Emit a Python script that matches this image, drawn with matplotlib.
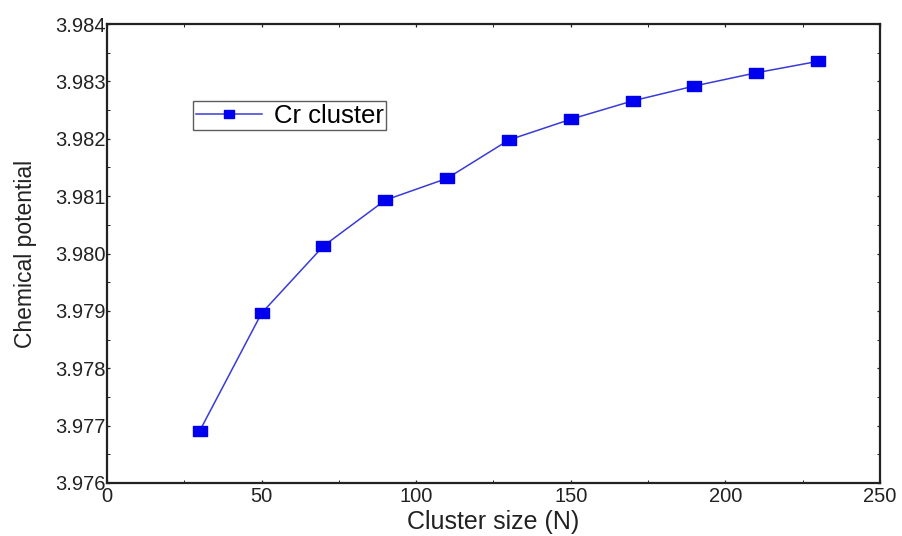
import matplotlib.pyplot as plt
from matplotlib.path import Path
from matplotlib.ticker import MultipleLocator, FormatStrFormatter

plt.rcParams["font.family"] = ["Liberation Sans", "DejaVu Sans"]

# Chemical potential of Cr clusters versus cluster size
cluster_size = [30, 50, 70, 90, 110, 130, 150, 170, 190, 210, 230]
chemical_potential = [3.97691, 3.97896, 3.98013, 3.98093, 3.98131, 3.98198,
                      3.98234, 3.98266, 3.98292, 3.98315, 3.98335]

x_ticks = [0, 50, 100, 150, 200, 250]
y_ticks = [3.976, 3.977, 3.978, 3.979, 3.980, 3.981, 3.982, 3.983, 3.984]

# slightly wide square marker
WIDE_SQUARE = Path([(-1.3, -1), (1.3, -1), (1.3, 1), (-1.3, 1), (-1.3, -1)],
                   [Path.MOVETO, Path.LINETO, Path.LINETO, Path.LINETO,
                    Path.CLOSEPOLY])


def main():
    fig = plt.figure(figsize=(9.03, 5.36), dpi=100)
    ax = fig.add_axes([0.1185, 0.0989, 0.856, 0.8563])

    ax.plot(cluster_size, chemical_potential, color="#3a3ad8", linewidth=1.1,
            marker=WIDE_SQUARE, markersize=9.5, markerfacecolor="#0000ee",
            markeredgecolor="#0000ee", label="Cr cluster")

    ax.set_xlim(0, 250)
    ax.set_ylim(3.976, 3.984)
    ax.set_xticks(x_ticks)
    ax.set_yticks(y_ticks)
    ax.yaxis.set_major_formatter(FormatStrFormatter("%.3f"))
    ax.xaxis.set_minor_locator(MultipleLocator(25))
    ax.yaxis.set_minor_locator(MultipleLocator(0.0005))
    ax.tick_params(which="both", direction="in", top=True, right=True,
                   labelsize=14.5, colors="#222222")
    ax.tick_params(axis="y", pad=1)
    ax.tick_params(axis="x", pad=3)
    ax.tick_params(which="major", length=2.5, width=0.9)
    ax.tick_params(which="minor", length=2, width=0.7)
    for spine in ax.spines.values():
        spine.set_linewidth(1.6)
        spine.set_color("#222222")

    ax.set_xlabel("Cluster size (N)", fontsize=18, color="#222222", labelpad=3)
    ax.set_ylabel("Chemical potential", fontsize=16.5, color="#222222",
                  labelpad=13)

    leg = ax.legend(loc="upper left", bbox_to_anchor=(0.1113, 0.832),
                    fontsize=18.5, frameon=True, fancybox=False,
                    handlelength=2.6, handletextpad=0.45, borderpad=0.1,
                    borderaxespad=0, markerscale=0.8)
    leg.get_frame().set_edgecolor("#333333")
    leg.get_frame().set_linewidth(1.0)

    fig.savefig("out.png", dpi=100)


if __name__ == "__main__":
    main()
